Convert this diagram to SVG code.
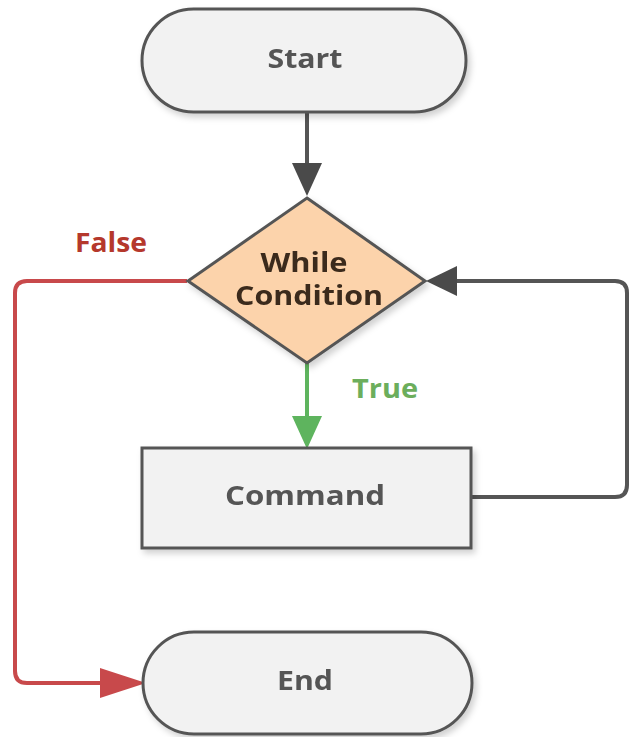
<svg xmlns="http://www.w3.org/2000/svg" width="631" height="737" viewBox="0 0 631 737">
<style>
.term{fill:#f2f2f2;stroke:#555;stroke-width:3}
.dec{fill:#fcd3ab;stroke:#555;stroke-width:3}
.lbl{font-family:"Open Sans","DejaVu Sans",sans-serif;font-weight:bold;font-size:26px;text-anchor:middle;fill:#555}
.dark{fill:#3b2b1c}
.edge{fill:none;stroke-width:4}
</style>
<defs>
<filter id="sh" x="-10%" y="-10%" width="130%" height="140%">
<feDropShadow dx="3" dy="4" stdDeviation="3" flood-color="#000" flood-opacity="0.18"/>
</filter>
</defs>
<rect width="631" height="737" fill="#fff"/>
<g id="connectors">
<line class="edge" x1="307" y1="112" x2="307" y2="165" stroke="#555"/>
<path d="M292,163 L322,163 L307,196 Z" fill="#4a4a4a"/>
<path class="edge" d="M187,281 H27 Q15,281 15,293 V671 Q15,683 27,683 H102" stroke="#c8494b"/>
<path d="M100,668 L146,683 L100,698 Z" fill="#c8494b"/>
<path class="edge" d="M307,363 V418" stroke="#5eb45e"/>
<path d="M292,416 L322,416 L307,449 Z" fill="#5eb45e"/>
<path class="edge" d="M471,497 H615 Q627,497 627,485 V293 Q627,281 615,281 H455" stroke="#555" stroke-width="3"/>
<path d="M457,266 L457,296 L426,281 Z" fill="#4a4a4a"/>
<text x="111" y="252" class="lbl" style="fill:#b5382c" textLength="72" lengthAdjust="spacingAndGlyphs">False</text>
<text x="385" y="398" class="lbl" style="fill:#6cae5c" textLength="66" lengthAdjust="spacingAndGlyphs">True</text>
</g>
<g id="start" filter="url(#sh)">
<rect class="term" x="142" y="9" width="324" height="103" rx="51.5"/>
<text x="305" y="68" class="lbl" textLength="75" lengthAdjust="spacingAndGlyphs">Start</text>
</g>
<g id="condition" filter="url(#sh)">
<polygon class="dec" points="307,198 425,281 307,363 188,281"/>
<text x="304" y="272" class="lbl dark" textLength="87" lengthAdjust="spacingAndGlyphs">While</text>
<text x="309" y="305" class="lbl dark" textLength="148" lengthAdjust="spacingAndGlyphs">Condition</text>
</g>
<g id="command" filter="url(#sh)">
<rect class="term" x="142" y="448" width="329" height="100"/>
<text x="305" y="505" class="lbl" textLength="160" lengthAdjust="spacingAndGlyphs">Command</text>
</g>
<g id="end" filter="url(#sh)">
<rect class="term" x="143" y="632" width="329" height="102" rx="51"/>
<text x="305" y="690" class="lbl" textLength="56" lengthAdjust="spacingAndGlyphs">End</text>
</g>
</svg>
